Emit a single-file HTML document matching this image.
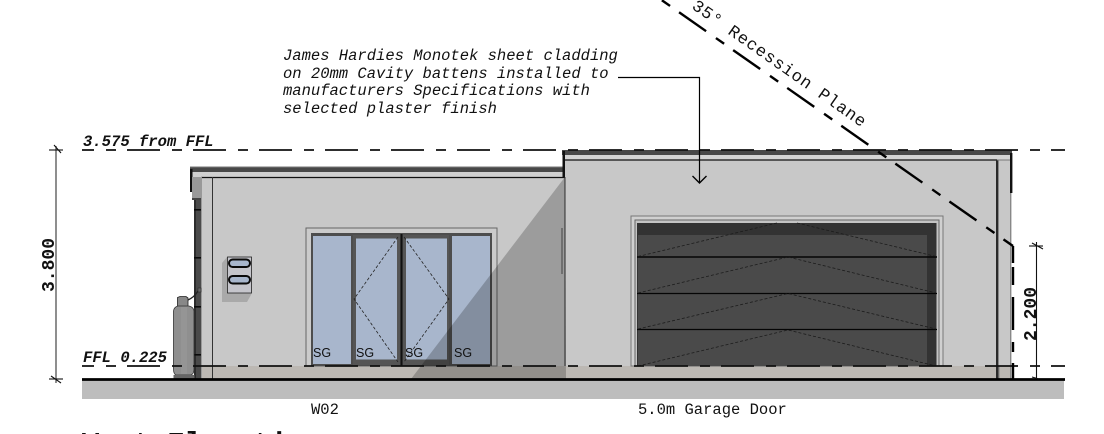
<!DOCTYPE html>
<html><head><meta charset="utf-8">
<style>
html,body{margin:0;padding:0;background:#fff;width:1104px;height:434px;overflow:hidden}
svg{display:block}
text{font-family:"Liberation Mono",monospace;fill:#111}
.it{font-style:italic;font-size:15.5px}
.bi{font-style:italic;font-weight:bold;font-size:15.55px}
.dim{font-weight:bold;font-size:18px}
.plain{font-size:15.5px}
.sg{font-family:"Liberation Sans",sans-serif;font-size:12.5px;fill:#111}
</style></head><body>
<svg width="1104" height="434" viewBox="0 0 1104 434" xmlns="http://www.w3.org/2000/svg">
<!-- ground -->
<rect x="82" y="380" width="982" height="19" fill="#bdbdbd"/>
<!-- walls -->
<rect x="201" y="172" width="365" height="194" fill="#c8c8c8"/>
<rect x="565" y="155" width="446" height="211" fill="#c8c8c8"/>
<!-- slab -->
<rect x="201" y="366" width="810" height="13" fill="#bcb8b3"/>
<!-- left roof -->
<rect x="190" y="167" width="373" height="5" fill="#484848"/>
<rect x="190" y="166.5" width="373" height="1" fill="#777"/>
<rect x="192" y="172" width="371" height="5" fill="#d0d0d0"/>
<line x1="201" y1="177.5" x2="565" y2="177.5" stroke="#111" stroke-width="1.2"/>
<line x1="212.5" y1="177" x2="212.5" y2="379" stroke="#333" stroke-width="1"/>
<rect x="201" y="177" width="1" height="202" fill="#999"/>
<rect x="190" y="169" width="2.5" height="23" fill="#111"/>
<rect x="192" y="177" width="9" height="21" fill="#999"/>
<rect x="192" y="198" width="9" height="2" fill="#444"/>
<rect x="194" y="200" width="7" height="179" fill="#4a4a4a"/>
<rect x="194" y="200" width="2" height="179" fill="#2c2c2c"/>
<g fill="#0a0a0a"><rect x="194" y="209" width="7" height="1.6"/><rect x="194" y="257" width="7" height="1.6"/><rect x="194" y="306" width="7" height="1.6"/><rect x="194" y="354" width="7" height="1.6"/></g>
<!-- right roof -->
<rect x="562" y="150" width="450" height="5" fill="#484848"/>
<rect x="565" y="155" width="447" height="5" fill="#d4d4d4"/>
<line x1="565" y1="160" x2="997" y2="160" stroke="#111" stroke-width="1.2"/>
<rect x="562.5" y="151" width="2.5" height="27" fill="#111"/>
<line x1="565" y1="177" x2="565" y2="366" stroke="#333" stroke-width="1"/>
<rect x="996" y="160" width="2.4" height="219" fill="#2a2a2a"/>
<rect x="998.4" y="366" width="1" height="13" fill="#777"/>
<rect x="1010" y="155" width="1.4" height="224" fill="#888"/>
<rect x="1010" y="153" width="2.4" height="40" fill="#111"/>
<rect x="997" y="159.5" width="13" height="1" fill="#777"/>
<rect x="561" y="228" width="2" height="46" fill="#8f8f8f"/>
<!-- meter box -->
<polygon points="222,263 227,257 252,293 247,302 222,302" fill="#a9a9a9"/>
<rect x="227.5" y="257" width="24" height="36" fill="#c5c5cb" stroke="#222" stroke-width="0.8"/>
<rect x="229" y="259.5" width="21" height="7.5" rx="3.7" fill="#a8b6cc" stroke="#0a0a0a" stroke-width="2"/>
<rect x="229" y="276" width="21" height="7.5" rx="3.7" fill="#a8b6cc" stroke="#0a0a0a" stroke-width="2"/>
<!-- gas bottle -->
<path d="M188 300 C192 298 195 296 198 291" fill="none" stroke="#222" stroke-width="1.3"/>
<rect x="198" y="288" width="3" height="4" fill="#666" stroke="#222" stroke-width=".5"/>
<path d="M177.5 307 V297.5 L180 296.5 H186 L188 298 V307 Z" fill="#888" stroke="#222" stroke-width=".8"/>
<path d="M173.5 311 Q174 307 178 306 H189 Q193.5 307 194 311 V369 Q194 374 191 375 H176 Q173.5 374 173.5 369 Z" fill="#8f8f8f" stroke="#333" stroke-width=".8"/>
<rect x="181" y="307" width="6" height="67" fill="#999" opacity=".6"/>
<rect x="173.5" y="375" width="21" height="3.5" fill="#666"/>
<!-- window -->
<rect x="306" y="228" width="191" height="138" fill="#cbcbcb" stroke="#666" stroke-width="1"/>
<rect x="311" y="233" width="181" height="133" fill="#4d4d4d"/>
<rect x="313" y="236" width="38" height="128" fill="#a8b6cc"/>
<rect x="452" y="236" width="38" height="128" fill="#a8b6cc"/>
<rect x="353" y="235" width="47" height="130" fill="#555"/>
<rect x="403" y="235" width="46" height="130" fill="#555"/>
<rect x="356" y="238.5" width="41" height="121" fill="#a8b6cc"/>
<rect x="406" y="238.5" width="41" height="121" fill="#a8b6cc"/>
<rect x="400.5" y="234" width="2" height="132" fill="#111"/>
<g fill="none" stroke="#222" stroke-width=".8" stroke-dasharray="3 2">
<polyline points="398,237 354,299 398,362"/>
<polyline points="404,237 449,299 404,362"/>
</g>
<!-- garage door -->
<rect x="631" y="216" width="312" height="150" fill="#d0d0d0" stroke="#777" stroke-width="1"/>
<rect x="635" y="220" width="304" height="146" fill="#c4c4c4" stroke="#666" stroke-width="1"/>
<rect x="637" y="223" width="299.5" height="143" fill="#333"/>
<rect x="638" y="235" width="289" height="131" fill="#4a4a4a"/>
<g stroke="#050505">
<line x1="637" y1="257" x2="937" y2="257" stroke-width="1.6"/>
<line x1="637" y1="293.5" x2="937" y2="293.5" stroke-width="1.2"/>
<line x1="637" y1="329.5" x2="937" y2="329.5" stroke-width="1.2"/>
</g>
<g fill="none" stroke="#1c1c1c" stroke-width=".8" stroke-dasharray="3 2">
<polyline points="638,256.5 777,223"/>
<polyline points="797,223 936,256.5"/>
<polyline points="638,293 788,257 936,293"/>
<polyline points="638,329 788,293.5 936,329"/>
<polyline points="638,366 788,330 936,366"/>
</g>
<!-- cast shadow -->
<polygon points="565,177 411,379 566,379" fill="#000" opacity=".22"/>
<!-- SG -->
<text class="sg" x="313" y="357">SG</text>
<text class="sg" x="356" y="357">SG</text>
<text class="sg" x="405" y="357">SG</text>
<text class="sg" x="454" y="357">SG</text>
<!-- ground line -->
<line x1="82" y1="379.5" x2="1065" y2="379.5" stroke="#000" stroke-width="2.8"/>
<!-- level lines -->
<g stroke="#111" stroke-width="1.7" fill="none" stroke-dasharray="33 12 10 11">
<line x1="82" y1="150" x2="1065" y2="150" stroke-dashoffset="21"/>
<line x1="82" y1="366" x2="1065" y2="366" stroke-dashoffset="21"/>
</g>
<!-- recession plane -->
<line x1="625" y1="-25.6" x2="1013" y2="246" stroke="#000" stroke-width="2.4" stroke-dasharray="33 12 10 11"/>
<g stroke="#000" stroke-width="2.4">
<line x1="1013" y1="246" x2="1013" y2="263"/>
<line x1="1013" y1="267" x2="1013" y2="285"/>
<line x1="1013" y1="297" x2="1013" y2="330"/>
<line x1="1013" y1="342" x2="1013" y2="352"/>
<line x1="1013" y1="363" x2="1013" y2="379"/>
</g>
<text transform="translate(691 8) rotate(35)" font-size="17" textLength="208" lengthAdjust="spacing">35° Recession Plane</text>
<!-- note -->
<text class="it" x="283" y="60">James Hardies Monotek sheet cladding</text>
<text class="it" x="283" y="78">on 20mm Cavity battens installed to</text>
<text class="it" x="283" y="95">manufacturers Specifications with</text>
<text class="it" x="283" y="113">selected plaster finish</text>
<polyline points="618,77.5 699.5,77.5 699.5,183" fill="none" stroke="#000" stroke-width="1.2"/>
<polyline points="692.5,176 699.5,183 706.5,176" fill="none" stroke="#000" stroke-width="1.4"/>
<!-- level labels -->
<text class="bi" x="83" y="146">3.575 from FFL</text>
<text class="bi" x="83" y="362">FFL 0.225</text>
<!-- dims -->
<g stroke="#333" stroke-width="1.1">
<line x1="56" y1="146" x2="56" y2="383"/>
</g>
<g stroke="#111" stroke-width="1.1">
<line x1="49" y1="150" x2="63" y2="150"/><line x1="54" y1="145" x2="61" y2="153"/>
<line x1="49" y1="379" x2="63" y2="379"/><line x1="51" y1="376" x2="61" y2="383"/>
<line x1="1036.5" y1="242" x2="1036.5" y2="379"/>
<line x1="1029" y1="246" x2="1043" y2="246"/><line x1="1032" y1="243" x2="1043" y2="249"/>
<line x1="1032" y1="377" x2="1039" y2="379"/>
</g>
<text class="dim" transform="translate(54 292) rotate(-90)">3.800</text>
<text class="dim" transform="translate(1036 341) rotate(-90)">2.200</text>
<!-- bottom labels -->
<text class="plain" x="311" y="414">W02</text>
<text class="plain" x="638" y="414">5.0m Garage Door</text>
<svg x="0" y="424" width="1104" height="10" viewBox="0 424 1104 10" overflow="hidden">
<text x="82" y="452" font-size="28.5" font-weight="bold">West Elevation</text>
</svg>
</svg>
</body></html>
